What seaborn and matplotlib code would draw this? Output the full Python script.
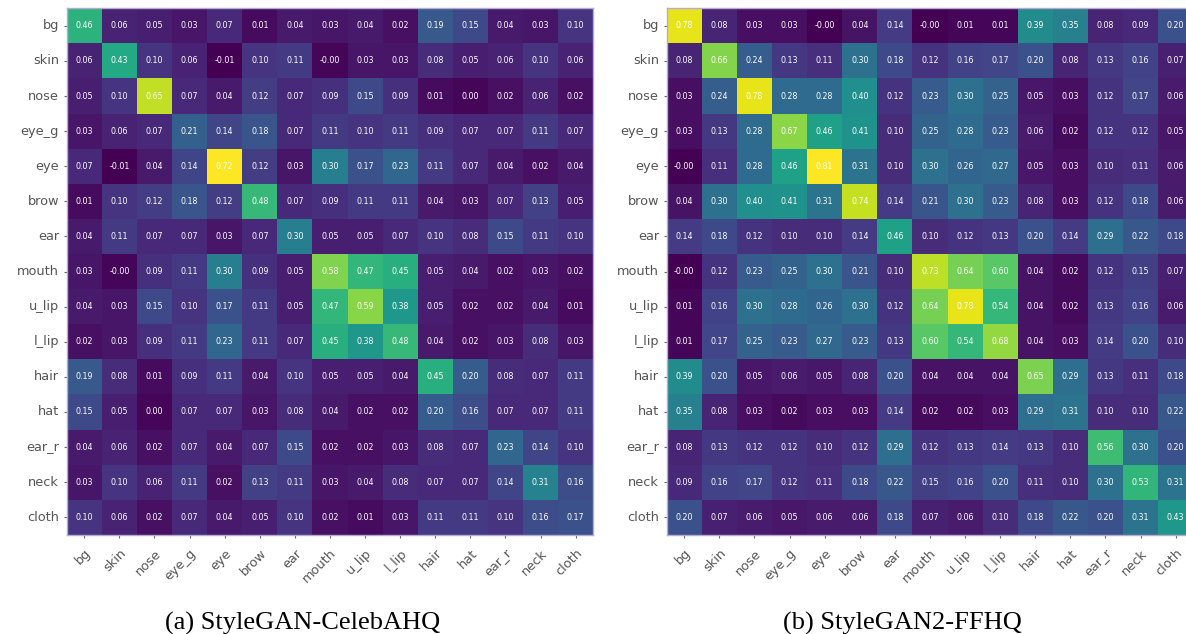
import numpy as np
import pandas as pd
import matplotlib
matplotlib.use("Agg")
import matplotlib.pyplot as plt
import seaborn as sns

parts = ["bg", "skin", "nose", "eye_g", "eye", "brow", "ear", "mouth",
         "u_lip", "l_lip", "hair", "hat", "ear_r", "neck", "cloth"]

celebahq = [
    [0.46, 0.06, 0.05, 0.03, 0.07, 0.01, 0.04, 0.03, 0.04, 0.02, 0.19, 0.15, 0.04, 0.03, 0.10],
    [0.06, 0.43, 0.10, 0.06, -0.01, 0.10, 0.11, -0.00, 0.03, 0.03, 0.08, 0.05, 0.06, 0.10, 0.06],
    [0.05, 0.10, 0.65, 0.07, 0.04, 0.12, 0.07, 0.09, 0.15, 0.09, 0.01, 0.00, 0.02, 0.06, 0.02],
    [0.03, 0.06, 0.07, 0.21, 0.14, 0.18, 0.07, 0.11, 0.10, 0.11, 0.09, 0.07, 0.07, 0.11, 0.07],
    [0.07, -0.01, 0.04, 0.14, 0.72, 0.12, 0.03, 0.30, 0.17, 0.23, 0.11, 0.07, 0.04, 0.02, 0.04],
    [0.01, 0.10, 0.12, 0.18, 0.12, 0.48, 0.07, 0.09, 0.11, 0.11, 0.04, 0.03, 0.07, 0.13, 0.05],
    [0.04, 0.11, 0.07, 0.07, 0.03, 0.07, 0.30, 0.05, 0.05, 0.07, 0.10, 0.08, 0.15, 0.11, 0.10],
    [0.03, -0.00, 0.09, 0.11, 0.30, 0.09, 0.05, 0.58, 0.47, 0.45, 0.05, 0.04, 0.02, 0.03, 0.02],
    [0.04, 0.03, 0.15, 0.10, 0.17, 0.11, 0.05, 0.47, 0.59, 0.38, 0.05, 0.02, 0.02, 0.04, 0.01],
    [0.02, 0.03, 0.09, 0.11, 0.23, 0.11, 0.07, 0.45, 0.38, 0.48, 0.04, 0.02, 0.03, 0.08, 0.03],
    [0.19, 0.08, 0.01, 0.09, 0.11, 0.04, 0.10, 0.05, 0.05, 0.04, 0.45, 0.20, 0.08, 0.07, 0.11],
    [0.15, 0.05, 0.00, 0.07, 0.07, 0.03, 0.08, 0.04, 0.02, 0.02, 0.20, 0.16, 0.07, 0.07, 0.11],
    [0.04, 0.06, 0.02, 0.07, 0.04, 0.07, 0.15, 0.02, 0.02, 0.03, 0.08, 0.07, 0.23, 0.14, 0.10],
    [0.03, 0.10, 0.06, 0.11, 0.02, 0.13, 0.11, 0.03, 0.04, 0.08, 0.07, 0.07, 0.14, 0.31, 0.16],
    [0.10, 0.06, 0.02, 0.07, 0.04, 0.05, 0.10, 0.02, 0.01, 0.03, 0.11, 0.11, 0.10, 0.16, 0.17],
]

ffhq = [
    [0.78, 0.08, 0.03, 0.03, -0.00, 0.04, 0.14, -0.00, 0.01, 0.01, 0.39, 0.35, 0.08, 0.09, 0.20],
    [0.08, 0.66, 0.24, 0.13, 0.11, 0.30, 0.18, 0.12, 0.16, 0.17, 0.20, 0.08, 0.13, 0.16, 0.07],
    [0.03, 0.24, 0.78, 0.28, 0.28, 0.40, 0.12, 0.23, 0.30, 0.25, 0.05, 0.03, 0.12, 0.17, 0.06],
    [0.03, 0.13, 0.28, 0.67, 0.46, 0.41, 0.10, 0.25, 0.28, 0.23, 0.06, 0.02, 0.12, 0.12, 0.05],
    [-0.00, 0.11, 0.28, 0.46, 0.81, 0.31, 0.10, 0.30, 0.26, 0.27, 0.05, 0.03, 0.10, 0.11, 0.06],
    [0.04, 0.30, 0.40, 0.41, 0.31, 0.74, 0.14, 0.21, 0.30, 0.23, 0.08, 0.03, 0.12, 0.18, 0.06],
    [0.14, 0.18, 0.12, 0.10, 0.10, 0.14, 0.46, 0.10, 0.12, 0.13, 0.20, 0.14, 0.29, 0.22, 0.18],
    [-0.00, 0.12, 0.23, 0.25, 0.30, 0.21, 0.10, 0.73, 0.64, 0.60, 0.04, 0.02, 0.12, 0.15, 0.07],
    [0.01, 0.16, 0.30, 0.28, 0.26, 0.30, 0.12, 0.64, 0.78, 0.54, 0.04, 0.02, 0.13, 0.16, 0.06],
    [0.01, 0.17, 0.25, 0.23, 0.27, 0.23, 0.13, 0.60, 0.54, 0.68, 0.04, 0.03, 0.14, 0.20, 0.10],
    [0.39, 0.20, 0.05, 0.06, 0.05, 0.08, 0.20, 0.04, 0.04, 0.04, 0.65, 0.29, 0.13, 0.11, 0.18],
    [0.35, 0.08, 0.03, 0.02, 0.03, 0.03, 0.14, 0.02, 0.02, 0.03, 0.29, 0.31, 0.10, 0.10, 0.22],
    [0.08, 0.13, 0.12, 0.12, 0.10, 0.12, 0.29, 0.12, 0.13, 0.14, 0.13, 0.10, 0.56, 0.30, 0.20],
    [0.09, 0.16, 0.17, 0.12, 0.11, 0.18, 0.22, 0.15, 0.16, 0.20, 0.11, 0.10, 0.30, 0.53, 0.31],
    [0.20, 0.07, 0.06, 0.05, 0.06, 0.06, 0.18, 0.07, 0.06, 0.10, 0.18, 0.22, 0.20, 0.31, 0.43],
]

titles = ["(a) StyleGAN-CelebAHQ", "(b) StyleGAN2-FFHQ"]

sns.set_style("ticks")
plt.rcParams["font.family"] = ["DejaVu Sans"]

fig = plt.figure(figsize=(11.86, 6.34), dpi=100)
W, H = 1186, 634
boxes = [(66.7, 8.3), (666.7, 8.3)]
size = 526.5
title_x = [303, 902]

for (x0, y0), mat, title, tx in zip(boxes, [celebahq, ffhq], titles, title_x):
    ax = fig.add_axes([x0 / W, 1 - (y0 + size) / H, size / W, size / H])
    df = pd.DataFrame(mat, index=parts, columns=parts)
    sns.heatmap(df, ax=ax, cmap="viridis", cbar=False, annot=True, fmt=".2f",
                annot_kws={"size": 5.7, "color": "white"})
    for s in ax.spines.values():
        s.set_visible(True)
        s.set_color("#b4aad4")
        s.set_linewidth(1.0)
    ax.tick_params(axis="both", length=2.5, width=0.8, color="#666666",
                   labelsize=9.3, labelcolor="#555555", pad=3)
    ax.tick_params(axis="x", pad=6)
    plt.setp(ax.get_xticklabels(), rotation=45, ha="right", va="top",
             rotation_mode="anchor")
    plt.setp(ax.get_yticklabels(), rotation=0)
    ax.set_xlabel("")
    ax.set_ylabel("")
    fig.text(tx / W, 1 - 630 / H, title, ha="center", va="baseline",
             family="Liberation Serif", fontsize=19, color="black")

fig.savefig("out.png", dpi=100)
